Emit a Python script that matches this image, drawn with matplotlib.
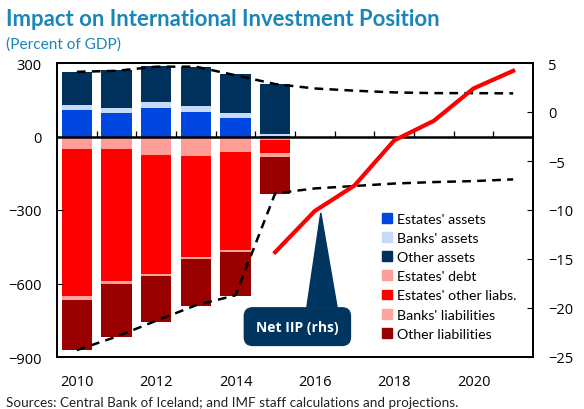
import numpy as np
import matplotlib.pyplot as plt
from matplotlib.patches import Patch, Polygon

plt.rcParams['font.family'] = ['Open Sans', 'DejaVu Sans']

# bars (percent of GDP)
years = [2010, 2011, 2012, 2013, 2014, 2015]
estates_assets = [109, 94, 116, 98, 75, 2]
banks_assets = [19, 22, 24, 26, 20, 8]
other_assets = [136, 155, 146, 161, 159, 204]
estates_debt = [-52, -52, -74, -80, -63, -15]
estates_other_liabs = [-600, -538, -486, -412, -402, -53]
banks_liabs = [-15, -10, -10, -10, -7, -14]
other_liabs = [-206, -219, -186, -188, -177, -151]

# dashed totals incl. projections
all_years = [2010, 2011, 2012, 2013, 2014, 2015, 2016, 2017, 2018, 2019, 2020, 2021]
total_assets = [264, 268, 285, 285, 250, 214, 196, 187, 180, 177, 177, 176]
total_liabs = [-872, -817, -752, -689, -648, -232, -212, -202, -192, -186, -182, -175]

# net IIP, rhs
iip_years = [2015, 2016, 2017, 2018, 2019, 2020, 2021]
net_iip = [-14.3, -10.1, -7.5, -2.9, -0.9, 2.4, 4.2]

year_labels = [2010, 2012, 2014, 2016, 2018, 2020]

c_est_a = '#0046E0'
c_bank_a = '#C6DBF8'
c_oth_a = '#00305C'
c_est_d = '#FF9E99'
c_est_o = '#FF0000'
c_bank_l = '#FFA39E'
c_oth_l = '#990000'
navy = '#003560'
teal = '#1A86B8'

fig = plt.figure(figsize=(5.84, 4.10), dpi=100)
ax = fig.add_axes([57 / 584, 1 - 358 / 410, 476 / 584, 294 / 410])

w = 0.77
ea = np.array(estates_assets)
ba = np.array(banks_assets)
ax.bar(years, ea, w, color=c_est_a)
ax.bar(years, ba, w, bottom=ea, color=c_bank_a)
ax.bar(years, other_assets, w, bottom=ea + ba, color=c_oth_a)

ed = np.array(estates_debt)
eo = np.array(estates_other_liabs)
bl = np.array(banks_liabs)
ax.bar(years, ed, w, color=c_est_d)
ax.bar(years, eo, w, bottom=ed, color=c_est_o)
ax.bar(years, bl, w, bottom=ed + eo, color=c_bank_l)
ax.bar(years, other_liabs, w, bottom=ed + eo + bl, color=c_oth_l)

ax.plot(all_years, total_assets, color='black', lw=1.8, ls=(0, (3.5, 2.5)))
ax.plot(all_years, total_liabs, color='black', lw=1.8, ls=(0, (3.5, 2.5)))

ax.axhline(0, color='black', lw=1.8)
ax.vlines(np.arange(2010.5, 2021), 0, 24, color='black', lw=0.9)

ax.set_xlim(2009.5, 2021.5)
ax.set_ylim(-900, 300)
ax.set_yticks([-900, -600, -300, 0, 300])
ax.set_xticks(year_labels)
ax.tick_params(axis='x', length=0, pad=12, labelsize=10.5)
ax.tick_params(axis='y', direction='in', length=4, pad=11, labelsize=10.5)
for s in ax.spines.values():
    s.set_linewidth(1.3)

ax2 = ax.twinx()
ax2.plot(iip_years, net_iip, color='#FF0000', lw=3)
ax2.set_ylim(-25, 5)
ax2.set_yticks(range(-25, 6, 5))
ax2.tick_params(axis='y', direction='in', length=4, pad=11, labelsize=10.5)
for s in ax2.spines.values():
    s.set_linewidth(1.3)

# callout
tri = Polygon([[2015.8, -19.9], [2016.56, -19.9], [2016.15, -10.3]],
              closed=True, color=navy, transform=ax2.transData, zorder=5)
ax2.add_patch(tri)
ax2.text(2015.56, -21.9, 'Net IIP (rhs)', color='white', fontsize=10,
         fontweight='bold', ha='center', va='center', zorder=6,
         bbox=dict(boxstyle='round,pad=0.85,rounding_size=0.6', fc=navy, ec=navy))

labels = ["Estates' assets", "Banks' assets", "Other assets", "Estates' debt",
          "Estates' other liabs.", "Banks' liabilities", "Other liabilities"]
colors = [c_est_a, c_bank_a, c_oth_a, c_est_d, c_est_o, c_bank_l, c_oth_l]
handles = [Patch(color=c, label=l) for c, l in zip(colors, labels)]
fig.legend(handles=handles, loc='upper left', bbox_to_anchor=(375 / 584, 1 - 207 / 410),
           frameon=False, prop={'family': 'Lato', 'size': 10.2},
           handlelength=0.7, handleheight=0.7,
           handletextpad=0.35, labelspacing=0.5, borderpad=0)

fig.text(6 / 584, 1 - 20 / 410, 'Impact on International Investment Position',
         fontsize=15.9, fontweight='bold', color=teal, va='center', family='Lato')
fig.text(6 / 584, 1 - 45 / 410, '(Percent of GDP)', fontsize=11.1, color=teal,
         va='center', family='Lato')
fig.text(6 / 584, 1 - 403 / 410,
         'Sources: Central Bank of Iceland; and IMF staff calculations and projections.',
         fontsize=9.7, color='#222222', va='center', family='Lato')

fig.savefig('out.png', dpi=100)
